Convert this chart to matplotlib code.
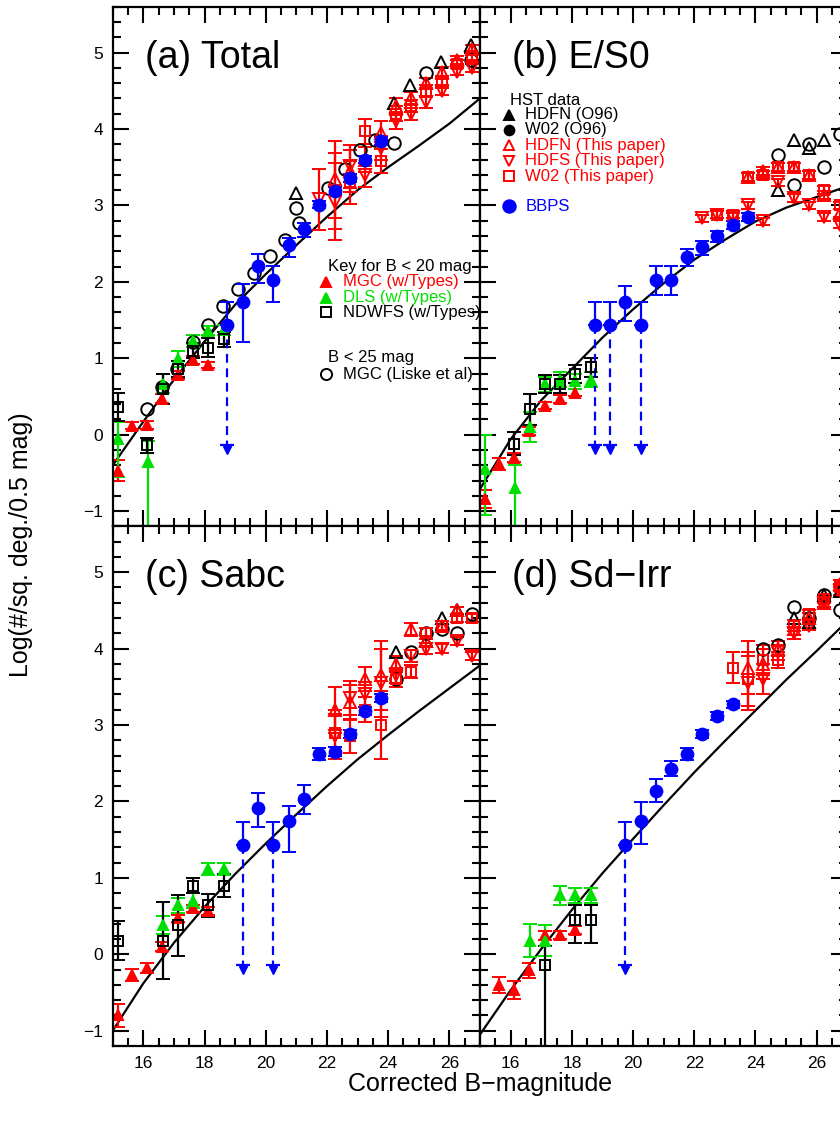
import numpy as np
import matplotlib
matplotlib.use('Agg')
from matplotlib import pyplot as plt

plt.rcParams['font.family'] = ['Liberation Sans', 'DejaVu Sans']
nan = np.nan

# %% Data

# bright-end surveys (B < 20)
mgc_mag = [15.17, 15.62, 16.11, 16.6, 17.12, 17.62, 18.12]
dls_mag = [15.17, 16.14, 16.64, 17.13, 17.63, 18.12, 18.62]
ndw_mag = [15.17, 16.11, 16.63, 17.12, 17.62, 18.12, 18.62]
bbps_mag = [18.75, 19.25, 19.75, 20.25, 20.75, 21.25, 21.75, 22.25, 22.75, 23.25, 23.75]
hst_mag = [21.75, 22.25, 22.75, 23.25, 23.75, 24.25, 24.75, 25.25, 25.75, 26.25, 26.75]
liske_mag = [16.11, 16.6, 17.09, 17.63, 18.12, 18.6, 19.1, 19.61, 20.13, 20.62, 21.09]
model_mag = [15, 16, 17, 18, 19, 20, 21, 22, 23, 24, 25, 26, 27]

# (a) Total
mgc_a = [-0.47, 0.12, 0.13, 0.47, 0.78, 0.98, 0.91]
mgc_a_err = [0.14, 0.05, 0.05, 0.06, 0.05, 0.05, 0.04]
dls_a = [-0.06, -0.36, 0.66, 0.99, 1.23, 1.36, 1.37]
dls_a_lo = [0.5, 2.0, 0.11, 0.1, 0.08, 0.06, 0.06]
dls_a_hi = [0.22, 0.28, 0.14, 0.1, 0.08, 0.06, 0.06]
ndw_a = [0.36, -0.14, 0.6, 0.86, 1.1, 1.14, 1.25]
ndw_a_err = [0.18, 0.1, 0.2, 0.1, 0.1, 0.13, 0.1]
bbps_a = [1.43, 1.74, 2.21, 2.03, 2.48, 2.69, 3.01, 3.19, 3.36, 3.6, 3.84]
bbps_a_lo = [0.0, 0.53, 0.22, 0.29, 0.16, 0.1, 0.05, 0.05, 0.05, 0.05, 0.05]
bbps_a_hi = [0.3, 0.23, 0.15, 0.18, 0.1, 0.08, 0.05, 0.05, 0.05, 0.05, 0.05]
liske_a = [0.34, 0.62, 0.86, 1.21, 1.44, 1.68, 1.9, 2.11, 2.34, 2.55, 2.77]
o96c_mag_a = [21.0, 22.04, 22.58, 23.07, 23.56, 24.2, 25.25, 26.72]
o96c_a = [2.96, 3.23, 3.47, 3.73, 3.86, 3.82, 4.73, 4.9]
o96t_mag_a = [21.0, 24.2, 24.72, 25.74, 26.72]
o96t_a = [3.16, 4.34, 4.58, 4.88, 5.1]
hdfn_a = [nan, 3.34, 3.45, 3.6, 3.95, 4.3, 4.4, 4.6, 4.75, 4.9, 5.05]
hdfs_a = [3.08, 3.05, 3.51, 3.4, 3.75, 4.1, 4.2, 4.35, 4.5, 4.75, 4.8]
w02_a = [nan, 3.19, 3.3, 3.97, 3.58, 4.2, 4.3, 4.5, 4.6, 4.85, 4.95]
hst_a_err = [0.4, 0.5, 0.28, 0.16, 0.16, 0.1, 0.08, 0.07, 0.06, 0.05, 0.05]
model_a = [-0.4, 0.17, 0.72, 1.22, 1.7, 2.1, 2.48, 2.85, 3.2, 3.5, 3.78, 4.07, 4.4]

# (b) E/S0
mgc_b = [-0.84, -0.38, -0.3, 0.05, 0.38, 0.47, 0.55]
mgc_b_err = [0.12, 0.08, 0.06, 0.05, 0.05, 0.05, 0.05]
dls_b = [-0.45, -0.7, 0.1, 0.66, 0.72, 0.7, 0.72]
dls_b_lo = [0.6, 2.0, 0.2, 0.1, 0.1, 0.1, 0.1]
dls_b_hi = [0.45, 0.3, 0.2, 0.1, 0.1, 0.1, 0.1]
ndw_b = [nan, -0.12, 0.33, 0.66, 0.66, 0.79, 0.88]
ndw_b_err = [0.2, 0.15, 0.2, 0.12, 0.12, 0.12, 0.12]
bbps_b = [1.44, 1.44, 1.74, 1.44, 2.03, 2.03, 2.33, 2.45, 2.6, 2.75, 2.85]
bbps_b_lo = [0.0, 0.0, 0.25, 0.0, 0.2, 0.2, 0.12, 0.1, 0.08, 0.06, 0.05]
bbps_b_hi = [0.3, 0.3, 0.2, 0.3, 0.18, 0.18, 0.1, 0.08, 0.06, 0.05, 0.05]
o96c_mag_b = [24.75, 25.25, 25.75, 26.25, 26.75]
o96c_b = [3.66, 3.27, 3.81, 3.5, 3.93]
o96t_mag_b = [24.75, 25.25, 25.75, 26.25]
o96t_b = [3.2, 3.86, 3.75, 3.85]
hdfn_b = [nan, nan, nan, nan, 3.37, 3.45, 3.5, 3.5, 3.4, 3.14, 2.9]
hdfs_b = [nan, 2.83, 2.88, 2.85, 3.0, 2.79, 3.3, 3.1, 3.0, 2.85, 2.75]
w02_b = [nan, nan, 2.88, 2.88, 3.37, 3.4, 3.5, 3.5, 3.4, 3.2, 3.0]
hst_b_err = [0.05, 0.05, 0.05, 0.05, 0.05, 0.05, 0.05, 0.05, 0.05, 0.05, 0.05]
model_b = [-0.71, -0.06, 0.45, 0.86, 1.27, 1.64, 1.98, 2.29, 2.55, 2.79, 2.97, 3.11, 3.25]

# (c) Sabc
mgc_c = [-0.8, -0.27, -0.18, 0.1, 0.47, 0.6, 0.57]
mgc_c_err = [0.15, 0.08, 0.07, 0.06, 0.05, 0.05, 0.05]
dls_c = [nan, nan, 0.38, 0.64, 0.7, 1.12, 1.12]
dls_c_err = [0.1, 0.1, 0.12, 0.1, 0.1, 0.08, 0.08]
ndw_c = [0.18, nan, 0.18, 0.38, 0.9, 0.64, 0.9]
ndw_c_err = [0.25, 0.2, 0.5, 0.4, 0.1, 0.15, 0.15]
bbps_c = [nan, 1.43, 1.91, 1.43, 1.74, 2.03, 2.62, 2.65, 2.88, 3.18, 3.35]
bbps_c_lo = [0.0, 0.0, 0.25, 0.0, 0.4, 0.2, 0.08, 0.06, 0.05, 0.05, 0.05]
bbps_c_hi = [0.3, 0.3, 0.2, 0.3, 0.2, 0.18, 0.08, 0.06, 0.05, 0.05, 0.05]
o96c_mag_c = [24.25, 24.75, 25.25, 25.75, 26.25, 26.75]
o96c_c = [3.6, 3.95, 4.2, 4.25, 4.2, 4.45]
o96t_mag_c = [24.25, 25.25, 25.75, 26.25]
o96t_c = [3.95, 4.1, 4.4, 4.5]
hdfn_c = [nan, 3.2, 3.3, 3.6, 3.65, 3.8, 4.25, 4.1, 4.3, 4.5, nan]
hdfs_c = [nan, 2.85, 3.35, 3.4, 3.55, 3.65, 3.9, 4.0, 4.0, 4.1, 3.9]
w02_c = [nan, 2.9, 2.85, 3.2, 3.0, 3.6, 3.7, 4.2, 4.3, 4.4, 4.4]
hst_c_err = [0.35, 0.3, 0.22, 0.16, 0.45, 0.1, 0.08, 0.07, 0.06, 0.05, 0.05]
model_c = [-1.0, -0.38, 0.15, 0.62, 1.05, 1.45, 1.83, 2.2, 2.55, 2.87, 3.18, 3.48, 3.78]

# (d) Sd-Irr
mgc_d = [nan, -0.4, -0.47, -0.21, 0.25, 0.25, 0.32]
mgc_d_err = [0.12, 0.1, 0.12, 0.1, 0.06, 0.05, 0.05]
dls_d = [nan, nan, 0.18, 0.18, 0.77, 0.77, 0.77]
dls_d_err = [0.2, 0.2, 0.22, 0.2, 0.12, 0.1, 0.1]
ndw_d = [nan, nan, nan, -0.14, nan, 0.45, 0.45]
ndw_d_lo = [0.2, 0.2, 0.2, 2.0, 0.2, 0.3, 0.3]
ndw_d_hi = [0.2, 0.2, 0.2, 0.25, 0.2, 0.2, 0.2]
bbps_d = [nan, nan, 1.43, 1.74, 2.14, 2.43, 2.62, 2.88, 3.12, 3.27, nan]
bbps_d_lo = [0.0, 0.0, 0.0, 0.3, 0.15, 0.1, 0.08, 0.05, 0.05, 0.05, 0.05]
bbps_d_hi = [0.3, 0.3, 0.3, 0.25, 0.15, 0.1, 0.08, 0.05, 0.05, 0.05, 0.05]
o96c_mag_d = [24.25, 24.75, 25.25, 25.75, 26.25, 26.75]
o96c_d = [4.0, 4.05, 4.55, 4.4, 4.7, 4.5]
o96t_mag_d = [25.25, 25.75, 26.25, 26.75]
o96t_d = [4.4, 4.35, 4.7, 4.75]
hdfn_d = [nan, nan, nan, nan, 3.75, 3.8, 4.0, 4.25, 4.4, 4.6, 4.85]
hdfs_d = [nan, nan, nan, nan, 3.55, 3.6, 3.95, 4.2, 4.3, 4.6, 4.75]
w02_d = [nan, nan, nan, 3.75, 3.6, 3.85, 3.85, 4.3, 4.45, 4.65, 4.8]
hst_d_err = [0.35, 0.3, 0.22, 0.2, 0.35, 0.2, 0.1, 0.07, 0.06, 0.05, 0.05]
model_d = [-1.05, -0.47, 0.07, 0.58, 1.06, 1.51, 1.95, 2.38, 2.79, 3.19, 3.59, 3.97, 4.36]

# upper-limit arrows (BBPS bins with no lower bound)
limits = {'a': [18.75], 'b': [18.75, 19.25, 20.25], 'c': [19.25, 20.25], 'd': [19.75]}
limit_end = -0.14

# %% Plot helpers

RED, GREEN, BLUE = '#ff0000', '#00e000', '#0000ff'
eb = dict(elinewidth=1.6, capsize=5, capthick=1.6, mew=1.4, ls='none')


def series(ax, x, y, lo, hi, marker, color, filled=True, ms=7):
    ax.errorbar(x, y, yerr=[lo, hi], fmt=marker, color=color,
                mfc=color if filled else 'none', mec=color, ms=ms, **eb)


def bbps(ax, y, lo, hi, lims):
    x = np.array(bbps_mag)
    y = np.array(y)
    lo = np.array(lo, dtype=float)
    for xl in lims:
        i = int(np.argmin(abs(x - xl)))
        lo[i] = 0
        ax.plot([x[i], x[i]], [y[i], limit_end], '--', color=BLUE, lw=1.6, dashes=(4, 2.5))
        ax.plot(x[i], limit_end, '_', color=BLUE, ms=10, mew=1.6)
        ax.plot(x[i], limit_end - 0.06, 'v', color=BLUE, ms=6)
    series(ax, x, y, lo, hi, 'o', BLUE, ms=8.5)


def hst(ax, n, s, w, err, cm, c, tm, t):
    err = np.array(err)
    series(ax, hst_mag, n, err, err, '^', RED, False, 8)
    series(ax, hst_mag, s, err, err, 'v', RED, False, 8)
    series(ax, hst_mag, w, err, err, 's', RED, False, 6.5)
    ax.plot(cm, c, 'o', mfc='none', mec='k', ms=9, mew=1.4, ls='none')
    ax.plot(tm, t, '^', mfc='none', mec='k', ms=8, mew=1.4, ls='none')


# %% Figure

fig = plt.figure(figsize=(8.4, 11.24), dpi=100)
W = 367.3 / 840
H = 519.7 / 1124
pos = {'a': [112.7 / 840, 1 - 526.4 / 1124, W, H],
       'b': [480.0 / 840, 1 - 526.4 / 1124, W, H],
       'c': [112.7 / 840, 1 - 1046 / 1124, W, H],
       'd': [480.0 / 840, 1 - 1046 / 1124, W, H]}
titles = {'a': '(a) Total', 'b': '(b) E/S0', 'c': '(c) Sabc', 'd': '(d) Sd\u2212Irr'}
axes = {}
for k in 'abcd':
    ax = fig.add_axes(pos[k])
    axes[k] = ax
    ax.set_xlim(15, 27)
    ax.set_ylim(-1.2, 5.6)
    ax.set_xticks(np.arange(16, 27, 2))
    ax.set_xticks(np.arange(15, 27.01, 0.5), minor=True)
    ax.set_yticks(np.arange(-1, 5.1, 1))
    ax.set_yticks(np.arange(-1.2, 5.61, 0.2), minor=True)
    ax.tick_params(which='both', direction='in', top=True, right=True, width=1.5,
                   labelsize=12.5, pad=7)
    ax.tick_params(which='major', length=11.5)
    ax.tick_params(which='minor', length=5.8)
    for sp in ax.spines.values():
        sp.set_linewidth(1.6)
    ax.set_yticklabels([str(v).replace('-', '\u2212') for v in range(-1, 6)])
    if k in 'ab':
        ax.tick_params(labelbottom=False)
    if k in 'bd':
        ax.tick_params(labelleft=False)
    ax.text(16.05, 4.8, titles[k], fontsize=27, va='baseline')

# model curves
for k, m in zip('abcd', [model_a, model_b, model_c, model_d]):
    axes[k].plot(model_mag, m, 'k-', lw=1.6)

# (a)
ax = axes['a']
series(ax, mgc_mag, mgc_a, mgc_a_err, mgc_a_err, '^', RED)
series(ax, dls_mag, dls_a, dls_a_lo, dls_a_hi, '^', GREEN)
series(ax, ndw_mag, ndw_a, ndw_a_err, ndw_a_err, 's', 'k', False, 6.5)
ax.plot(liske_mag, liske_a, 'o', mfc='none', mec='k', ms=9, mew=1.4, ls='none')
hst(ax, hdfn_a, hdfs_a, w02_a, hst_a_err, o96c_mag_a, o96c_a, o96t_mag_a, o96t_a)
bbps(ax, bbps_a, bbps_a_lo, bbps_a_hi, limits['a'])

# (b)
ax = axes['b']
series(ax, mgc_mag, mgc_b, mgc_b_err, mgc_b_err, '^', RED)
series(ax, dls_mag, dls_b, dls_b_lo, dls_b_hi, '^', GREEN)
series(ax, ndw_mag, ndw_b, ndw_b_err, ndw_b_err, 's', 'k', False, 6.5)
hst(ax, hdfn_b, hdfs_b, w02_b, hst_b_err, o96c_mag_b, o96c_b, o96t_mag_b, o96t_b)
bbps(ax, bbps_b, bbps_b_lo, bbps_b_hi, limits['b'])

# (c)
ax = axes['c']
series(ax, mgc_mag, mgc_c, mgc_c_err, mgc_c_err, '^', RED)
series(ax, dls_mag, dls_c, dls_c_err, dls_c_err, '^', GREEN)
series(ax, ndw_mag, ndw_c, ndw_c_err, ndw_c_err, 's', 'k', False, 6.5)
hst(ax, hdfn_c, hdfs_c, w02_c, hst_c_err, o96c_mag_c, o96c_c, o96t_mag_c, o96t_c)
bbps(ax, bbps_c, bbps_c_lo, bbps_c_hi, limits['c'])

# (d)
ax = axes['d']
series(ax, mgc_mag, mgc_d, mgc_d_err, mgc_d_err, '^', RED)
series(ax, dls_mag, dls_d, dls_d_err, dls_d_err, '^', GREEN)
series(ax, ndw_mag, ndw_d, ndw_d_lo, ndw_d_hi, 's', 'k', False, 6.5)
hst(ax, hdfn_d, hdfs_d, w02_d, hst_d_err, o96c_mag_d, o96c_d, o96t_mag_d, o96t_d)
bbps(ax, bbps_d, bbps_d_lo, bbps_d_hi, limits['d'])

# key for the ground-based surveys
ax = axes['a']
ax.text(22.02, 2.206, 'Key for B < 20 mag', fontsize=12, va='center', clip_on=True)
key_a = [('^', RED, True, 'MGC (w/Types)', 2.0),
         ('^', GREEN, True, 'DLS (w/Types)', 1.79),
         ('s', 'k', False, 'NDWFS (w/Types)', 1.6)]
for mk, col, fill, lab, yy in key_a:
    ax.plot(21.98, yy, mk, color=col, mfc=col if fill else 'none', ms=7, mew=1.4)
    ax.text(22.53, yy, lab, color=col, fontsize=12, va='center', clip_on=True)
ax.text(22.02, 1.01, 'B < 25 mag', fontsize=12, va='center', clip_on=True)
ax.plot(21.98, 0.79, 'o', mfc='none', mec='k', ms=8, mew=1.4)
ax.text(22.53, 0.79, 'MGC (Liske et al)', fontsize=12, va='center', clip_on=True)

# key for the HST and BBPS data
ax = axes['b']
ax.text(15.99, 4.373, 'HST data', fontsize=12, va='center')
key_b = [('^', 'k', True, 'HDFN (O96)', 4.187),
         ('o', 'k', True, 'W02 (O96)', 3.99),
         ('^', RED, False, 'HDFN (This paper)', 3.786),
         ('v', RED, False, 'HDFS (This paper)', 3.586),
         ('s', RED, False, 'W02 (This paper)', 3.381),
         ('o', BLUE, True, 'BBPS', 2.99)]
for mk, col, fill, lab, yy in key_b:
    ms = 9 if (mk == 'o' and col == BLUE) else 7
    ax.plot(15.96, yy, mk, color=col, mfc=col if fill else 'none', mec=col, ms=ms, mew=1.4)
    ax.text(16.48, yy, lab, color=col, fontsize=12, va='center')

fig.text(480 / 840, 1 - 1084 / 1124, 'Corrected B\u2212magnitude', fontsize=18,
         ha='center', va='center')
fig.text(21 / 840, 1 - 545 / 1124, 'Log(#/sq. deg./0.5 mag)', fontsize=18,
         ha='center', va='center', rotation=90)

fig.savefig('out.png', dpi=100)
